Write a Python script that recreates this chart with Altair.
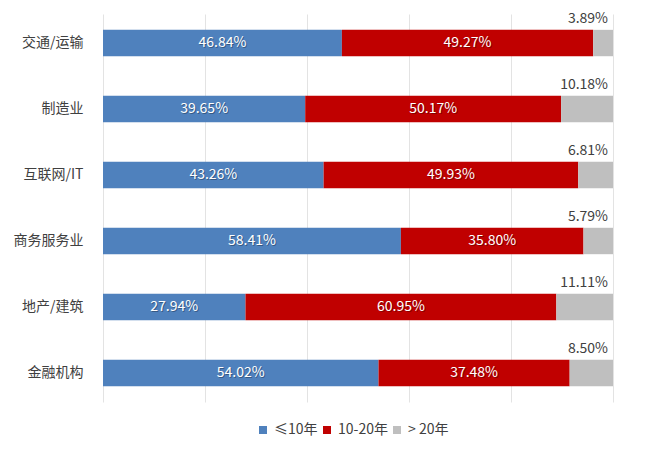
import altair as alt
import pandas as pd

industries = ["交通/运输", "制造业", "互联网/IT", "商务服务业", "地产/建筑", "金融机构"]
series = ["≤10年", "10-20年", "> 20年"]
v_le10 = [46.84, 39.65, 43.26, 58.41, 27.94, 54.02]
v_10_20 = [49.27, 50.17, 49.93, 35.80, 60.95, 37.48]
v_gt20 = [3.89, 10.18, 6.81, 5.79, 11.11, 8.50]
colors = ["#4F81BD", "#C00000", "#BFBFBF"]

rows = []
for i, ind in enumerate(industries):
    vals = [v_le10[i], v_10_20[i], v_gt20[i]]
    start = 0.0
    for k, s in enumerate(series):
        end = start + vals[k]
        rows.append({"industry": ind, "series": s, "order": k, "value": vals[k],
                     "start": start, "end": end, "mid": (start + end) / 2,
                     "label": f"{vals[k]:.2f}%"})
        start = end
df = pd.DataFrame(rows)

FONT = "Noto Sans CJK SC"

y = alt.Y("industry:N", sort=industries, title=None,
          scale=alt.Scale(paddingInner=0.6, paddingOuter=0.24),
          axis=alt.Axis(domain=False, ticks=False, labelPadding=20, labelFontSize=14,
                        labelColor="#404040", labelFont=FONT))

x_scale = alt.Scale(domain=[0, 100])

bars = alt.Chart(df).mark_bar().encode(
    y=y,
    x=alt.X("start:Q", scale=x_scale, title=None,
            axis=alt.Axis(values=[0, 20, 40, 60, 80, 100], labels=False, ticks=False,
                          domain=False, grid=True, gridColor="#E3E3E3")),
    x2="end:Q",
    color=alt.Color("series:N", sort=series,
                    scale=alt.Scale(domain=series, range=colors),
                    legend=alt.Legend(orient="none", legendX=153, legendY=409,
                                      direction="horizontal", title=None,
                                      symbolType="square", symbolSize=64, labelFontSize=14,
                                      labelColor="#404040", labelFont=FONT, columnPadding=2,
                                      labelOffset=4, symbolStrokeWidth=0)),
)

inner = df[df["order"] < 2]
shadow = alt.Chart(inner).mark_text(fontSize=14, font=FONT, color="#000000", opacity=0.3,
                                    dx=1, dy=1).encode(
    y=alt.Y("industry:N", sort=industries), x=alt.X("mid:Q", scale=x_scale), text="label:N")
inner_text = alt.Chart(inner).mark_text(fontSize=14, font=FONT, color="white").encode(
    y=alt.Y("industry:N", sort=industries), x=alt.X("mid:Q", scale=x_scale), text="label:N")

top = df[df["order"] == 2]
top_text = alt.Chart(top).mark_text(fontSize=14, font=FONT, color="#404040", align="right",
                                    dx=-5, dy=-24).encode(
    y=alt.Y("industry:N", sort=industries), x=alt.X("end:Q", scale=x_scale), text="label:N")

chart = alt.layer(bars, shadow, inner_text, top_text).properties(
    width=510, height=388,
    autosize=alt.AutoSizeParams(type="none"),
    padding={"left": 95, "top": 6, "right": 33, "bottom": 43},
).configure_view(stroke=None)

chart.save("out.html", embed_options={"renderer": "svg", "actions": False})
